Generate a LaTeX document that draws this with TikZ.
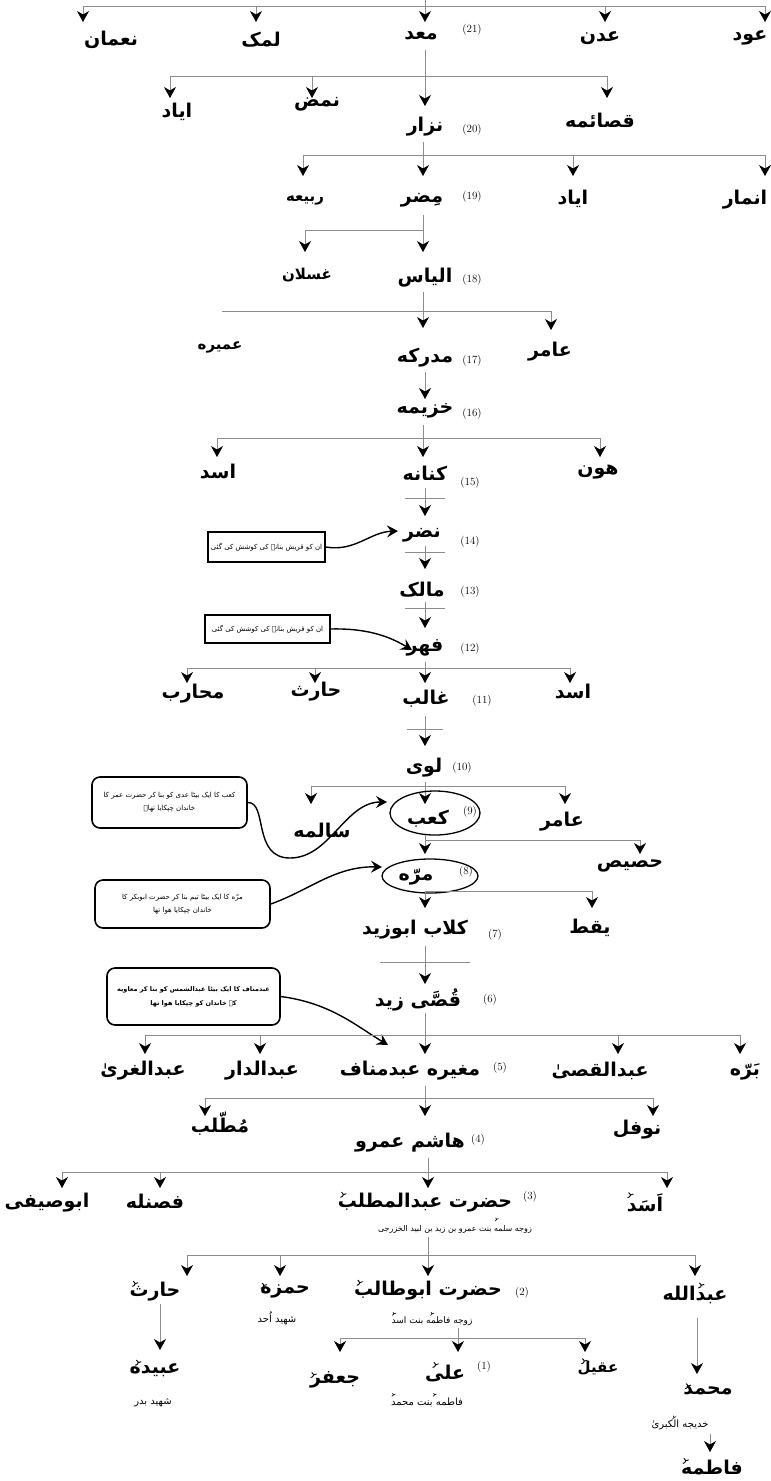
\documentclass[tikz,border=0pt]{standalone}
\usepackage{fontspec}
\usetikzlibrary{arrows.meta}
\TeXXeTstate=1
\newfontfamily\arabicfont[Script=Arabic]{DejaVu Sans}
\newcommand\RL[1]{\beginR #1\endR}
\definecolor{linegray}{gray}{0.55}
\tikzset{
 nm/.style={font=\arabicfont\bfseries\fontsize{19}{22}\selectfont, inner sep=0pt},
 nms/.style={font=\arabicfont\bfseries\fontsize{15}{18}\selectfont, inner sep=0pt},
 num/.style={font=\fontsize{11}{12}\selectfont, inner sep=0pt},
 sub/.style={font=\arabicfont\fontsize{9}{11}\selectfont, inner sep=0pt},
 bus/.style={draw=linegray, line width=0.7pt},
 arr/.style={bus, -{Stealth[color=black,length=11pt,width=12pt,inset=3.5pt]}},
 note/.style={draw=black, line width=1.6pt, font=\arabicfont\fontsize{7}{13}\selectfont, align=center, inner sep=0pt},
 rnote/.style={note, rounded corners=8pt},
 callout/.style={draw=black, line width=1.4pt, -{Stealth[length=11pt,width=12pt,inset=4pt]}},
 ring/.style={draw=black, line width=1.3pt},
 bar/.style={draw=linegray, line width=0.7pt},
 % honorific sign (U+0613 / U+0610): no available family has a glyph, drawn as a small mark
 hon/.pic={\draw[line width=0.9pt, line cap=round] (0,0) .. controls (3,-0.5) and (3.5,-3.5) .. (1,-5) (2.5,-2.5) -- (5.5,-3.5);},
 honS/.pic={\draw[line width=0.6pt, line cap=round] (0,0) .. controls (1.8,-0.3) and (2.1,-2.1) .. (0.6,-3) (1.5,-1.5) -- (3.3,-2.1);},
}
\begin{document}
\begin{tikzpicture}[x=1pt,y=-1pt]
\useasboundingbox (0,0) rectangle (771,1481);

% ---------- level 21
\coordinate (top) at (425,0);
\coordinate (b21L) at (83,6); \coordinate (b21R) at (765,6);
\coordinate (t-numan) at (83,22); \coordinate (t-lamak) at (256,22);
\coordinate (t-maad) at (425,22); \coordinate (t-adnan) at (605,22);
\coordinate (t-ud) at (765,22);
\draw[bus] (b21L) -- (b21R);
\draw[arr] (b21L) -- (t-numan);
\draw[arr] (t-lamak |- b21L) -- (t-lamak);
\draw[arr] (top) -- (t-maad);
\draw[arr] (t-adnan |- b21L) -- (t-adnan);
\draw[arr] (b21R) -- (t-ud);
\node[nm] (numan) at (111,40) {\RL{نعمان}};
\node[nm] (lamak) at (261,40) {\RL{لمک}};
\node[nm] (maad) at (421,36) {\RL{معد}};
\node[nm] (adnan) at (600,38) {\RL{عدن}};
\node[nm] (ud) at (750,38) {\RL{عود}};
\node[num] (n21) at (472,30) {(21)};

% ---------- level 20
\coordinate (d20) at (425,50); \coordinate (b20L) at (170,76); \coordinate (b20R) at (607,76);
\coordinate (t-ayad1) at (170,98); \coordinate (t-namz) at (312,98);
\coordinate (t-nizar) at (425,106); \coordinate (t-qasaima) at (607,98);
\draw[bus] (d20) -- (t-nizar |- b20L);
\draw[bus] (b20L) -- (b20R);
\draw[arr] (b20L) -- (t-ayad1);
\draw[arr] (t-namz |- b20L) -- (t-namz);
\draw[arr] (t-nizar |- b20L) -- (t-nizar);
\draw[arr] (b20R) -- (t-qasaima);
\node[nm] (ayad1) at (177,112) {\RL{ایاد}};
\node[nm] (namz) at (317,104) {\RL{نمض}};
\node[nm] (nizar) at (425,127) {\RL{نزار}};
\node[nm] (qasaima) at (600,121) {\RL{قصائمه}};
\node[num] (n20) at (472,130) {(20)};

% ---------- level 19
\coordinate (d19) at (423,142); \coordinate (b19L) at (303,155); \coordinate (b19R) at (765,155);
\coordinate (t-rabia) at (303,176); \coordinate (t-muzar) at (423,176);
\coordinate (t-ayad2) at (573,176); \coordinate (t-anmar) at (765,176);
\draw[bus] (d19) -- (t-muzar |- b19L);
\draw[bus] (b19L) -- (b19R);
\draw[arr] (b19L) -- (t-rabia);
\draw[arr] (t-muzar |- b19L) -- (t-muzar);
\draw[arr] (t-ayad2 |- b19L) -- (t-ayad2);
\draw[arr] (b19R) -- (t-anmar);
\node[nms] (rabia) at (305,200) {\RL{ربیعه}};
\node[nm] (muzar) at (422,200) {\RL{مِضر}};
\node[nm] (ayad2) at (573,199) {\RL{ایاد}};
\node[nm] (anmar) at (745,200) {\RL{انمار}};
\node[num] (n19) at (472,197) {(19)};

% ---------- level 18
\coordinate (d18) at (423,215); \coordinate (b18L) at (305,230);
\coordinate (t-ghaslan) at (305,252); \coordinate (t-ilyas) at (423,252);
\draw[bus] (d18) -- (t-ilyas |- b18L);
\draw[bus] (b18L) -- (t-ilyas |- b18L);
\draw[arr] (b18L) -- (t-ghaslan);
\draw[arr] (t-ilyas |- b18L) -- (t-ilyas);
\node[nms] (ghaslan) at (307,275) {\RL{غسلان}};
\node[nm] (ilyas) at (425,278) {\RL{الیاس}};
\node[num] (n18) at (472,280) {(18)};

% ---------- level 17
\coordinate (d17) at (423,292); \coordinate (b17L) at (222,311); \coordinate (b17R) at (551,311);
\coordinate (t-mudrika) at (423,328); \coordinate (t-amir1) at (551,330);
\draw[bus] (d17) -- (t-mudrika |- b17L);
\draw[bus] (b17L) -- (b17R);
\draw[arr] (t-mudrika |- b17L) -- (t-mudrika);
\draw[arr] (b17R) -- (t-amir1);
\node[nms] (umaira) at (220,347) {\RL{عمیره}};
\node[nm] (mudrika) at (425,358) {\RL{مدرکه}};
\node[nm] (amir1) at (550,352) {\RL{عامر}};
\node[num] (n17) at (472,361) {(17)};

% ---------- level 16
\coordinate (d16) at (425,372); \coordinate (t-khuzaima) at (425,399);
\draw[arr] (d16) -- (t-khuzaima);
\node[nm] (khuzaima) at (425,411) {\RL{خزیمه}};
\node[num] (n16) at (472,414) {(16)};

% ---------- level 15
\coordinate (d15) at (423,425); \coordinate (b15L) at (217,438); \coordinate (b15R) at (600,438);
\coordinate (t-asad1) at (217,457); \coordinate (t-kinana) at (423,457); \coordinate (t-hun) at (600,457);
\draw[bus] (d15) -- (t-kinana |- b15L);
\draw[bus] (b15L) -- (b15R);
\draw[arr] (b15L) -- (t-asad1);
\draw[arr] (t-kinana |- b15L) -- (t-kinana);
\draw[arr] (b15R) -- (t-hun);
\node[nm] (asad1) at (218,472) {\RL{اسد}};
\node[nm] (kinana) at (425,473) {\RL{کنانه}};
\node[nm] (hun) at (598,472) {\RL{هون}};
\node[num] (n15) at (470,483) {(15)};

% ---------- level 14
\draw[bar] (405,498) -- (445,498);
\coordinate (d14) at (425,488); \coordinate (t-nazr) at (425,516);
\draw[arr] (d14) -- (t-nazr);
\node[nm] (nazr) at (422,535) {\RL{نضر}};
\node[num] (n14) at (470,542) {(14)};
\node[note, minimum width=117pt, minimum height=30pt] (box1) at (266.5,547) {\RL{ان کو قریش بنانے کی کوشش کی گئی}};
\coordinate (tip14) at (398,531);
\draw[callout] (box1.east) .. controls (355,552) and (370,532) .. (tip14);

% ---------- level 13
\draw[bar] (405,552) -- (445,552);
\coordinate (d13) at (425,546); \coordinate (t-malik) at (425,569);
\draw[arr] (d13) -- (t-malik);
\node[nm] (malik) at (422,590) {\RL{مالک}};
\node[num] (n13) at (470,592) {(13)};

% ---------- level 12
\draw[bar] (405,608) -- (445,608);
\coordinate (d12) at (425,602); \coordinate (t-fihr) at (425,628);
\draw[arr] (d12) -- (t-fihr);
\node[nm] (fihr) at (425,648) {\RL{فهر}};
\node[num] (n12) at (470,649) {(12)};
\node[note, minimum width=125pt, minimum height=28pt] (box2) at (267.5,629) {\RL{ان کو قریش بنانے کی کوشش کی گئی}};
\coordinate (tip12) at (412,650);
\draw[callout] (box2.east) .. controls (370,628) and (392,638) .. (tip12);

% ---------- level 11
\coordinate (d11) at (425,662); \coordinate (b11L) at (187,668); \coordinate (b11R) at (570,668);
\coordinate (t-muharib) at (187,683); \coordinate (t-harith1) at (315,683);
\coordinate (t-ghalib) at (425,683); \coordinate (t-asad2) at (570,683);
\draw[bus] (d11) -- (t-ghalib |- b11L);
\draw[bus] (b11L) -- (b11R);
\draw[arr] (b11L) -- (t-muharib);
\draw[arr] (t-harith1 |- b11L) -- (t-harith1);
\draw[arr] (t-ghalib |- b11L) -- (t-ghalib);
\draw[arr] (b11R) -- (t-asad2);
\node[nm] (muharib) at (193,694) {\RL{محارب}};
\node[nm] (harith1) at (316,692) {\RL{حارث}};
\node[nm] (ghalib) at (426,699) {\RL{غالب}};
\node[nm] (asad2) at (573,692) {\RL{اسد}};
\node[num] (n11) at (482,701) {(11)};

% ---------- level 10
\draw[bar] (407,729) -- (443,729);
\coordinate (d10) at (425,716); \coordinate (t-luayy) at (425,746);
\draw[arr] (d10) -- (t-luayy);
\node[nm] (luayy) at (424,768) {\RL{لوی}};
\node[num] (n10) at (462,768) {(10)};

% ---------- level 9
\coordinate (d9) at (425,782); \coordinate (b9L) at (311,786); \coordinate (b9R) at (565,786);
\coordinate (t-salima) at (311,804); \coordinate (t-kaab) at (425,804); \coordinate (t-amir2) at (565,804);
\draw[bus] (d9) -- (t-kaab |- b9L);
\draw[bus] (b9L) -- (b9R);
\draw[arr] (b9L) -- (t-salima);
\draw[arr] (t-kaab |- b9L) -- (t-kaab);
\draw[arr] (b9R) -- (t-amir2);
\node[nm] (salima) at (322,830) {\RL{سالمه}};
\node[nm] (kaab) at (428,819) {\RL{کعب}};
\node[num] (n9) at (470,812) {(9)};
\node[nm] (amir2) at (562,822) {\RL{عامر}};
\draw[ring] (435,813) ellipse [x radius=45pt, y radius=22pt];
\node[rnote, minimum width=155pt, minimum height=51pt] (box3) at (169.5,802.5)
  {\RL{کعب کا ایک بیٹا عدی کو بنا کر حضرت عمر کا}\\ \RL{خاندان چپکایا تھا۔}};
\coordinate (c9) at (290,858); \coordinate (tip9) at (387,802);
\draw[callout] (box3.east) .. controls (268,802) and (252,858) .. (c9) .. controls (330,858) and (345,802) .. (tip9);

% ---------- level 8
\coordinate (d8) at (425,835); \coordinate (b8R) at (640,840);
\coordinate (t-murra) at (425,854); \coordinate (t-hasis) at (640,854);
\draw[bus] (d8) -- (t-murra |- b8R);
\draw[bus] (t-murra |- b8R) -- (b8R);
\draw[arr] (t-murra |- b8R) -- (t-murra);
\draw[arr] (b8R) -- (t-hasis);
\node[nm] (hasis) at (630,866) {\RL{حصیص}};
\node[nm] (murra) at (416,877) {\RL{مرّه}};
\node[num] (n8) at (466,872) {(8)};
\draw[ring] (430,876) ellipse [x radius=48pt, y radius=17pt];
\node[rnote, minimum width=175pt, minimum height=48pt] (box4) at (182.5,904)
  {\RL{مرّه کا ایک بیٹا تیم بنا کر حضرت ابوبکر کا}\\ \RL{خاندان چپکایا هوا تھا}};
\coordinate (tip8) at (382,867);
\draw[callout] (box4.east) .. controls (310,890) and (335,866) .. (tip8);

% ---------- level 7
\coordinate (b7L) at (425,891); \coordinate (b7R) at (592,891);
\coordinate (t-kilab) at (425,908); \coordinate (t-yaqza) at (592,908);
\draw[bus] (b7L) -- (b7R);
\draw[arr] (b7L) -- (t-kilab);
\draw[arr] (b7R) -- (t-yaqza);
\node[nm] (yaqza) at (590,928) {\RL{یقط}};
\node[nm] (kilab) at (415,930) {\RL{کلاب ابوزید}};
\node[num] (n7) at (495,935) {(7)};

% ---------- level 6
\draw[bar] (380,962) -- (470,962);
\coordinate (d6) at (425,946); \coordinate (t-qusayy) at (425,984);
\draw[arr] (d6) -- (t-qusayy);
\node[nm] (qusayy) at (418,1000) {\RL{قُصَّی زید}};
\node[num] (n6) at (490,1000) {(6)};
\node[rnote, font=\arabicfont\bfseries\fontsize{6.5}{14}\selectfont, minimum width=173pt, minimum height=57pt] (box5) at (193.5,996.5)
  {\RL{عبدمناف کا ایک بیٹا عبدالشمس کو بنا کر معاویه}\\ \RL{کے خاندان کو چپکایا هوا تھا}};
\coordinate (tip6) at (388,1045);
\draw[callout] (box5.east) .. controls (330,1003) and (355,1025) .. (tip6);

% ---------- level 5
\coordinate (d5) at (425,1013); \coordinate (b5L) at (145,1035); \coordinate (b5R) at (740,1035);
\coordinate (t-uzza) at (145,1054); \coordinate (t-dar) at (260,1054); \coordinate (t-manaf) at (425,1054);
\coordinate (t-abdqusayy) at (618,1054); \coordinate (t-barra) at (740,1054);
\draw[bus] (d5) -- (t-manaf |- b5L);
\draw[bus] (b5L) -- (b5R);
\draw[arr] (b5L) -- (t-uzza);
\draw[arr] (t-dar |- b5L) -- (t-dar);
\draw[arr] (t-manaf |- b5L) -- (t-manaf);
\draw[arr] (t-abdqusayy |- b5L) -- (t-abdqusayy);
\draw[arr] (b5R) -- (t-barra);
\node[nm] (uzza) at (143,1071) {\RL{عبدالغریٰ}};
\node[nm] (dar) at (262,1071) {\RL{عبدالدار}};
\node[nm] (manaf) at (410,1071) {\RL{مغیره عبدمناف}};
\node[num] (n5) at (500,1068) {(5)};
\node[nm] (abdqusayy) at (600,1071) {\RL{عبدالقصیٰ}};
\node[nm] (barra) at (745,1072) {\RL{بَرّه}};

% ---------- level 4
\coordinate (d4) at (425,1086); \coordinate (b4L) at (205,1098); \coordinate (b4R) at (653,1098);
\coordinate (t-muttalib) at (205,1116); \coordinate (t-hashim) at (425,1116); \coordinate (t-nawfal) at (653,1116);
\draw[bus] (d4) -- (t-hashim |- b4L);
\draw[bus] (b4L) -- (b4R);
\draw[arr] (b4L) -- (t-muttalib);
\draw[arr] (t-hashim |- b4L) -- (t-hashim);
\draw[arr] (b4R) -- (t-nawfal);
\node[nm] (muttalib) at (220,1124) {\RL{مُطّلب}};
\node[nm] (hashim) at (410,1143) {\RL{هاشم عمرو}};
\node[num] (n4) at (478,1140) {(4)};
\node[nm] (nawfal) at (637,1130) {\RL{نوفل}};

% ---------- level 3
\coordinate (d3) at (428,1158); \coordinate (b3L) at (62,1172); \coordinate (b3R) at (667,1172);
\coordinate (t-abusayfi) at (62,1188); \coordinate (t-fasnala) at (160,1188);
\coordinate (t-muttalib2) at (428,1188); \coordinate (t-asad3) at (667,1188);
\draw[bus] (d3) -- (t-muttalib2 |- b3L);
\draw[bus] (b3L) -- (b3R);
\draw[arr] (b3L) -- (t-abusayfi);
\draw[arr] (t-fasnala |- b3L) -- (t-fasnala);
\draw[arr] (t-muttalib2 |- b3L) -- (t-muttalib2);
\draw[arr] (b3R) -- (t-asad3);
\node[nm] (abusayfi) at (47,1203) {\RL{ابوصیفی}};
\node[nm] (fasnala) at (155,1201) {\RL{فصنله}};
\node[nm] (abdalmuttalib) at (425,1203) {\RL{حضرت عبدالمطلب}};
\pic at ([shift={(3,4)}]abdalmuttalib.north west) {hon};
\node[num] (n3) at (530,1197) {(3)};
\node[nm] (asad3) at (645,1203) {\RL{اَسَد}};
\pic at ([shift={(1,4)}]asad3.north west) {hon};
\node[sub, font=\arabicfont\fontsize{8}{10}\selectfont] (wife3) at (455,1229) {\RL{زوجه سلمه بنت عمرو بن زید بن لبید الخزرجی}};
\pic at ([shift={(-37,-4)}]wife3.north east) {honS};

% ---------- level 2
\coordinate (d2) at (428,1237); \coordinate (b2L) at (187,1255); \coordinate (b2R) at (695,1255);
\coordinate (t-harith2) at (187,1276); \coordinate (t-hamza) at (280,1276);
\coordinate (t-abutalib) at (428,1276); \coordinate (t-abdullah) at (695,1276);
\draw[bus] (d2) -- (t-abutalib |- b2L);
\draw[bus] (b2L) -- (b2R);
\draw[arr] (b2L) -- (t-harith2);
\draw[arr] (t-hamza |- b2L) -- (t-hamza);
\draw[arr] (t-abutalib |- b2L) -- (t-abutalib);
\draw[arr] (b2R) -- (t-abdullah);
\node[nm] (harith2) at (155,1292) {\RL{حارث}};
\pic at ([shift={(3,4)}]harith2.north west) {hon};
\node[nm] (hamza) at (285,1291) {\RL{حمزه}};
\pic at ([shift={(1,4)}]hamza.north west) {hon};
\node[nm] (abutalib) at (428,1291) {\RL{حضرت ابوطالب}};
\pic at ([shift={(3,4)}]abutalib.north west) {hon};
\node[num] (n2) at (522,1293) {(2)};
\node[nm] (abdullah) at (695,1295) {\RL{عبدالله}};
\pic at ([shift={(36,2)}]abdullah.north west) {hon};
\node[sub, font=\arabicfont\fontsize{10}{12}\selectfont] (uhud) at (277,1318) {\RL{شهید اُحد}};
\node[sub] (wife2) at (432,1321) {\RL{زوجه فاطمه بنت اسد}};
\pic at ([shift={(-42,-1)}]wife2.north east) {honS};
\pic at ([shift={(1,-1)}]wife2.north west) {honS};

% ---------- level 1
\coordinate (d1h) at (160,1304); \coordinate (t-ubayda) at (160,1350);
\draw[arr] (d1h) -- (t-ubayda);
\node[nm] (ubayda) at (155,1370) {\RL{عبیده}};
\pic at ([shift={(6,2)}]ubayda.north west) {hon};
\node[sub, font=\arabicfont\fontsize{10}{12}\selectfont] (badr) at (153,1403) {\RL{شهید بدر}};

\coordinate (d1) at (458,1328); \coordinate (b1L) at (340,1338); \coordinate (b1R) at (585,1338);
\coordinate (t-jafar) at (340,1352); \coordinate (t-ali) at (458,1352); \coordinate (t-aqil) at (585,1352);
\draw[bus] (d1) -- (t-ali |- b1L);
\draw[bus] (b1L) -- (b1R);
\draw[arr] (b1L) -- (t-jafar);
\draw[arr] (t-ali |- b1L) -- (t-ali);
\draw[arr] (b1R) -- (t-aqil);
\node[nm] (jafar) at (335,1380) {\RL{جعفر}};
\pic at ([shift={(1,6)}]jafar.north west) {hon};
\node[nm] (ali) at (445,1373) {\RL{علی}};
\pic at ([shift={(8,3)}]ali.north west) {hon};
\node[num] (n1) at (484,1367) {(1)};
\node[nm, font=\arabicfont\bfseries\fontsize{15}{18}\selectfont] (aqil) at (598,1368) {\RL{عقیل}};
\pic at ([shift={(4,3)}]aqil.north west) {hon};
\node[sub, font=\arabicfont\fontsize{10}{12}\selectfont] (fatbint) at (427,1402) {\RL{فاطمه بنت محمد}};
\pic at ([shift={(-30,-1)}]fatbint.north east) {honS};
\pic at ([shift={(1,-1)}]fatbint.north west) {honS};

\coordinate (d1m) at (697,1318); \coordinate (t-muhammad) at (697,1374);
\draw[arr] (d1m) -- (t-muhammad);
\node[nm] (muhammad) at (708,1391) {\RL{محمد}};
\pic at ([shift={(2,2)}]muhammad.north west) {hon};
\node[sub, font=\arabicfont\fontsize{10}{12}\selectfont] (khadija) at (680,1425) {\RL{خدیجه الکبریٰ}};
\pic at ([shift={(-36,-1)}]khadija.north east) {honS};
\coordinate (d0) at (710,1434); \coordinate (t-fatima) at (710,1452);
\draw[arr] (d0) -- (t-fatima);
\node[nm] (fatima) at (712,1467) {\RL{فاطمه}};
\pic at ([shift={(2,4)}]fatima.north west) {hon};
\end{tikzpicture}
\end{document}
